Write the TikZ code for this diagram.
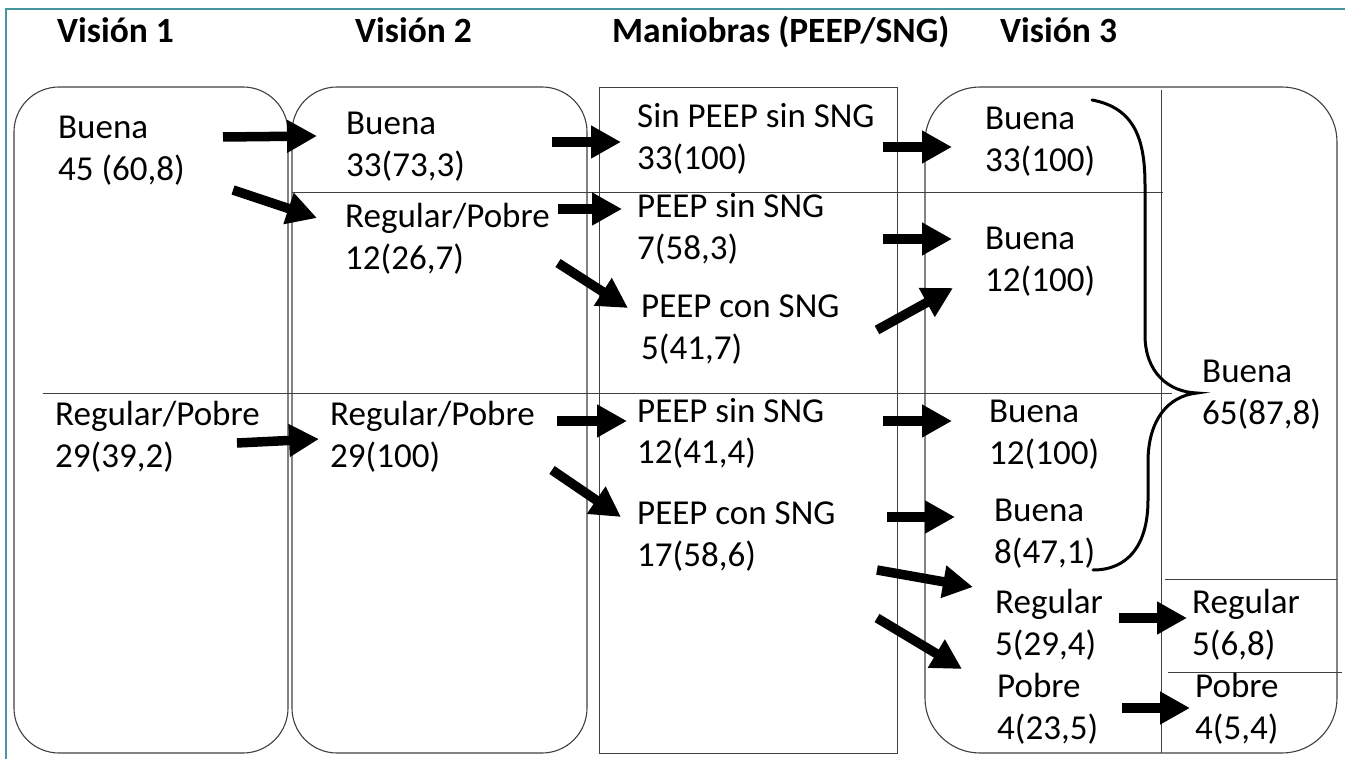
\documentclass[tikz,border=0pt]{standalone}
\usepackage{fontspec}
\setmainfont{Carlito}
\usetikzlibrary{arrows.meta}
\definecolor{frameteal}{RGB}{70,150,160}
\newcommand{\twoline}[2]{\begin{tabular}[t]{@{}l@{}}#1\\#2\end{tabular}}
\begin{document}
\begin{tikzpicture}[x=1pt,y=-1pt,
  lbl/.style={anchor=base west,inner sep=0pt,font=\fontsize{35}{42}\selectfont},
  hdr/.style={anchor=base west,inner sep=0pt,font=\fontsize{35.5}{42}\selectfont\bfseries},
  panel/.style={draw=black!75,line width=1.1pt,rounded corners=45pt},
  plainbox/.style={draw=black!75,line width=1pt},
  sepline/.style={draw=black!75,line width=0.9pt},
  bigarrow/.style={line width=9.5pt,-{Triangle[length=30pt,width=31pt]}},
  bracecurve/.style={line width=3pt,line cap=round}]
\useasboundingbox (0,0) rectangle (1345,759);
\fill[white] (0,0) rectangle (1345,759);
% teal frame
\draw[frameteal,line width=1.2pt] (6,760) -- (6,9) -- (1346,9);

% headers
\node[hdr] (h1) at (57,43) {Visión 1};
\node[hdr] (h2) at (355,43) {Visión 2};
\node[hdr] (h3) at (612,43) {Maniobras (PEEP/SNG)};
\node[hdr] (h4) at (1000,43) {Visión 3};

% panels
\draw[panel] (14,87) rectangle (288,753);
\draw[panel] (292,87) rectangle (587,753);
\draw[plainbox] (599,88) rectangle (897,753);
\draw[panel,rounded corners=55pt] (925,87) rectangle (1337,753);

% separators
\draw[sepline] (292,192) -- (1163,192);
\draw[sepline] (43,393) -- (1172,393);
\draw[sepline] (1161,90) -- (1161,753);
\draw[sepline] (1165,579) -- (1337,579);
\draw[sepline] (1168,672) -- (1342,672);

% labels
\node[lbl] (v1b) at (58,139) {\twoline{Buena}{45 (60,8)}};
\node[lbl] (v1r) at (55,426) {\twoline{Regular/Pobre}{29(39,2)}};
\node[lbl] (v2b) at (346,135) {\twoline{Buena}{33(73,3)}};
\node[lbl] (v2r) at (345,228) {\twoline{Regular/Pobre}{12(26,7)}};
\node[lbl] (v2r2) at (330,425) {\twoline{Regular/Pobre}{29(100)}};
\node[lbl] (m1) at (637,128) {\twoline{Sin PEEP sin SNG}{33(100)}};
\node[lbl] (m2) at (637,218) {\twoline{PEEP sin SNG}{7(58,3)}};
\node[lbl] (m3) at (641,318) {\twoline{PEEP con SNG}{5(41,7)}};
\node[lbl] (m4) at (637,422) {\twoline{PEEP sin SNG}{12(41,4)}};
\node[lbl] (m5) at (637,524) {\twoline{PEEP con SNG}{17(58,6)}};
\node[lbl] (v3a) at (985,130) {\twoline{Buena}{33(100)}};
\node[lbl] (v3b) at (985,250) {\twoline{Buena}{12(100)}};
\node[lbl] (v3c) at (989,423) {\twoline{Buena}{12(100)}};
\node[lbl] (v3d) at (994,521) {\twoline{Buena}{8(47,1)}};
\node[lbl] (v3e) at (995,613) {\twoline{Regular}{5(29,4)}};
\node[lbl] (v3f) at (997,697) {\twoline{Pobre}{4(23,5)}};
\node[lbl] (t1) at (1202,383) {\twoline{Buena}{65(87,8)}};
\node[lbl] (t2) at (1192,613) {\twoline{Regular}{5(6,8)}};
\node[lbl] (t3) at (1195,697) {\twoline{Pobre}{4(5,4)}};

% arrow end points
\coordinate (a1s) at (223,137);  \coordinate (a1e) at (317,136);
\coordinate (a2s) at (233,190);  \coordinate (a2e) at (317,218);
\coordinate (a3s) at (237,443);  \coordinate (a3e) at (319,439);
\coordinate (a4s) at (552,142);  \coordinate (a4e) at (621,142);
\coordinate (a5s) at (558,209);  \coordinate (a5e) at (622,209);
\coordinate (a6s) at (558,263);  \coordinate (a6e) at (628,308);
\coordinate (a7s) at (557,421);  \coordinate (a7e) at (627,421);
\coordinate (a8s) at (552,470);  \coordinate (a8e) at (621,517);
\coordinate (a9s) at (883,147);  \coordinate (a9e) at (952,147);
\coordinate (a10s) at (883,239); \coordinate (a10e) at (952,239);
\coordinate (a11s) at (877,330); \coordinate (a11e) at (953,288);
\coordinate (a12s) at (883,421); \coordinate (a12e) at (952,421);
\coordinate (a13s) at (887,517); \coordinate (a13e) at (955,517);
\coordinate (a14s) at (877,570); \coordinate (a14e) at (973,587);
\coordinate (a15s) at (877,618); \coordinate (a15e) at (962,669);
\coordinate (a16s) at (1119,618); \coordinate (a16e) at (1187,618);
\coordinate (a17s) at (1122,708); \coordinate (a17e) at (1190,708);

\foreach \i in {1,...,17} {
  \draw[bigarrow] (a\i s) -- (a\i e);
}

% brace
\coordinate (brtop) at (1092,100);
\coordinate (brtip) at (1197,393);
\coordinate (brbot) at (1093,570);
\draw[bracecurve] (brtop) .. controls (1135,108) and (1145,140) .. (1145,185)
  -- (1145,335) .. controls (1145,372) and (1168,392) .. (brtip)
  .. controls (1168,396) and (1148,420) .. (1148,462)
  -- (1148,500) .. controls (1148,545) and (1128,570) .. (brbot);
\end{tikzpicture}
\end{document}
